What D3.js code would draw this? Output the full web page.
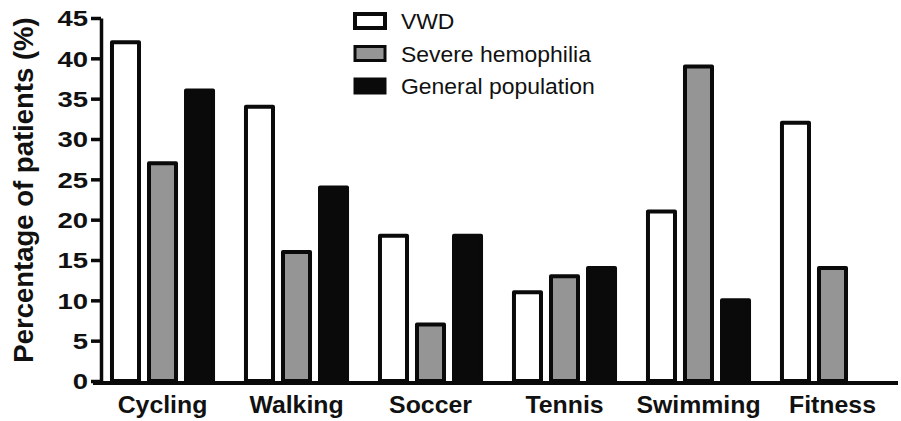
<!DOCTYPE html>
<html>
<head>
<meta charset="utf-8">
<script src="https://cdn.jsdelivr.net/npm/d3@7"></script>
<style>
  html, body { margin: 0; padding: 0; background: #fff; }
  svg { display: block; }
  text { font-family: "Liberation Sans", Arial, Helvetica, sans-serif; fill: #111; }
</style>
</head>
<body>
<svg id="chart" width="901" height="421"></svg>
<script>
const categories = ["Cycling", "Walking", "Soccer", "Tennis", "Swimming", "Fitness"];
const seriesNames = ["VWD", "Severe hemophilia", "General population"];
const vwdValues = [42, 34, 18, 11, 21, 32];
const hemophiliaValues = [27, 16, 7, 13, 39, 14];
const generalValues = [36, 24, 18, 14, 10, null];
const yTicks = [0, 5, 10, 15, 20, 25, 30, 35, 40, 45];
const yTitle = "Percentage of patients (%)";

const seriesValues = [vwdValues, hemophiliaValues, generalValues];
const fills = ["#ffffff", "#959595", "#0a0a0a"];
const sw = 4;

const svg = d3.select("#chart");
const width = 901, height = 421;

const y = d3.scaleLinear().domain([0, 45]).range([381, 18]);
const x0 = d3.scaleBand().domain(categories).range([101, 894]).paddingInner(0.216).paddingOuter(0.067);
const x1 = d3.scaleBand().domain(d3.range(seriesNames.length)).range([0, x0.bandwidth()]).paddingInner(0.162).paddingOuter(0);

// bars
const groups = svg.append("g").selectAll("g")
  .data(categories)
  .join("g")
  .attr("transform", d => `translate(${x0(d)},0)`);

groups.selectAll("rect")
  .data((c, i) => seriesValues.map((vals, s) => ({ s, v: vals[i] })).filter(d => d.v != null))
  .join("rect")
  .attr("x", d => x1(d.s) + sw / 2)
  .attr("width", x1.bandwidth() - sw)
  .attr("y", d => y(d.v))
  .attr("height", d => y(0) - y(d.v))
  .attr("fill", d => fills[d.s])
  .attr("stroke", "#0a0a0a")
  .attr("stroke-width", sw)
  .attr("stroke-linejoin", "round");

// y axis
const tickStretch = 1.25;
const yAxis = svg.append("g")
  .attr("transform", "translate(101,0)")
  .call(d3.axisLeft(y).tickValues(yTicks).tickSize(10).tickSizeOuter(0).tickPadding(3));
yAxis.select(".domain").attr("stroke", "#0a0a0a").attr("stroke-width", 3.5);
yAxis.selectAll(".tick line").attr("stroke", "#0a0a0a").attr("stroke-width", 3.5);
yAxis.selectAll(".tick text")
  .style("font-family", "'Liberation Sans', Arial, sans-serif")
  .style("font-weight", "bold")
  .style("font-size", "22px")
  .attr("fill", "#111")
  .attr("x", -13 / tickStretch)
  .attr("transform", `scale(${tickStretch},1)`)
  .attr("dy", "0.36em");

// x axis
const catStretch = 1.08;
const xAxis = svg.append("g")
  .attr("transform", `translate(0,${y(0) + 2})`)
  .call(d3.axisBottom(x0).tickSize(0).tickPadding(14));
xAxis.select(".domain").remove();
xAxis.append("line")
  .attr("x1", x0.range()[0] - 8).attr("x2", width - 3)
  .attr("y1", 0).attr("y2", 0)
  .attr("stroke", "#0a0a0a").attr("stroke-width", 4);
xAxis.selectAll(".tick text")
  .style("font-family", "'Liberation Sans', Arial, sans-serif")
  .style("font-weight", "bold")
  .style("font-size", "23px")
  .attr("fill", "#111")
  .attr("transform", `scale(${catStretch},1)`);

// y title
svg.append("text")
  .attr("transform", `translate(33,190) rotate(-90)`)
  .attr("text-anchor", "middle")
  .style("font-weight", "bold")
  .style("font-size", "27.5px")
  .text(yTitle);

// legend
const legend = svg.append("g").attr("transform", "translate(355,14)");
const rows = legend.selectAll("g").data(seriesNames).join("g")
  .attr("transform", (d, i) => `translate(0,${i * 32.5})`);
rows.append("rect")
  .attr("x", 0).attr("y", 0)
  .attr("width", 30).attr("height", 14)
  .attr("fill", (d, i) => fills[i])
  .attr("stroke", "#0a0a0a")
  .attr("stroke-width", (d, i) => i === 0 ? 4 : 3);
rows.append("text")
  .attr("x", 45).attr("y", 15)
  .style("font-size", "22.5px")
  .attr("transform", "scale(1.02,1)")
  .text(d => d);
</script>
</body>
</html>
